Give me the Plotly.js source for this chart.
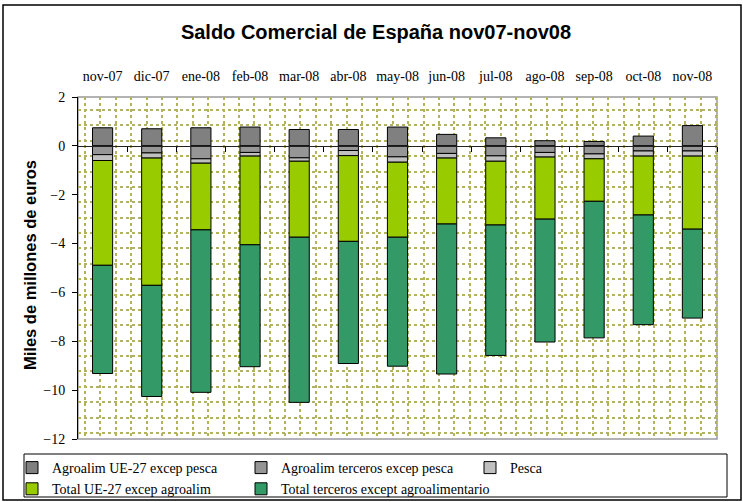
<!DOCTYPE html>
<html>
<head>
<meta charset="utf-8">
<script src="https://cdn.plot.ly/plotly-3.0.1.min.js"></script>
<style>html,body{margin:0;padding:0;background:#fff;}#chart{width:743px;height:502px;}</style>
</head>
<body>
<div id="chart"></div>
<script>
// ---- data (miles de millones de euros) ----
const months = ["nov-07","dic-07","ene-08","feb-08","mar-08","abr-08","may-08","jun-08","jul-08","ago-08","sep-08","oct-08","nov-08"];
const agroUE = [0.74,0.70,0.74,0.77,0.67,0.67,0.77,0.47,0.33,0.21,0.18,0.40,0.83];
const agroTerceros = [-0.36,-0.29,-0.53,-0.27,-0.49,-0.19,-0.45,-0.31,-0.41,-0.27,-0.33,-0.21,-0.21];
const pesca = [-0.24,-0.21,-0.18,-0.15,-0.14,-0.21,-0.22,-0.19,-0.22,-0.19,-0.20,-0.21,-0.21];
const totalUE = [-4.29,-5.21,-2.73,-3.63,-3.11,-3.51,-3.07,-2.70,-2.61,-2.54,-1.74,-2.41,-2.99];
const totalTerceros = [-4.43,-4.55,-6.65,-4.99,-6.76,-5.00,-5.28,-6.14,-5.34,-5.03,-5.59,-4.49,-3.64];
const seriesNames = ["Agroalim UE-27 excep pesca","Agroalim terceros excep pesca","Pesca","Total UE-27 excep agroalim","Total terceros except agroalimentario"];
const yTicks = [-12,-10,-8,-6,-4,-2,0,2];

const colors = ["#808080","#969696","#c0c0c0","#99cc00","#339966"];
const allSeries = [agroUE, agroTerceros, pesca, totalUE, totalTerceros];

const serif = "Liberation Serif, Times New Roman, serif";
const sans = "Liberation Sans, Arial, sans-serif";

const traces = allSeries.map((vals, i) => ({
  type: "bar",
  name: seriesNames[i],
  x: months,
  y: vals,
  marker: {color: colors[i], line: {color: "#000", width: 1}},
  hoverinfo: "x+y+name"
}));

// plot-area geometry in pixels (for background pattern grid)
const L = 78, R = 26, T = 97, B = 63, W = 743, H = 502;
const pw = W - L - R, ph = H - T - B;
const px = v => (v - L) / pw;          // page x -> paper x
const py = v => (H - B - v) / ph;      // page y -> paper y

// invisible helper trace for the dotted pattern grid
traces.push({type:"scatter", x:[0], y:[0], xaxis:"x2", yaxis:"y2", mode:"markers",
  marker:{opacity:0}, showlegend:false, hoverinfo:"skip"});
// helper trace for the category-boundary ticks along zero line
traces.push({type:"scatter", x:[0], y:[0], xaxis:"x3", yaxis:"y", mode:"markers",
  marker:{opacity:0}, showlegend:false, hoverinfo:"skip"});

const boundaries = months.map((_, i) => i + 0.5);

const layout = {
  width: W, height: H,
  margin: {l: L, r: R, t: T, b: B, pad: 0, autoexpand: false},
  paper_bgcolor: "#fff",
  plot_bgcolor: "#fff",
  barmode: "relative",
  bargap: 0.59,
  showlegend: true,
  title: {text: "Saldo Comercial de España nov07-nov08", font: {family: sans, size: 20, color: "#000", weight: "bold"},
    x: 0.506, xanchor: "center", y: 0.936, yanchor: "middle"},
  xaxis: {
    type: "category", side: "top", range: [-0.5, months.length - 0.5],
    showgrid: false, zeroline: false, showline: false, ticks: "",
    tickfont: {family: serif, size: 14, color: "#000"},
    ticklabelstandoff: 12, automargin: false, fixedrange: true
  },
  xaxis2: {overlaying: "x", range: [0, pw], tick0: 7, dtick: 15.39, showgrid: true,
    gridcolor: "#b3b35e", gridwidth: 2, griddash: "dot", showticklabels: false, ticks: "",
    zeroline: false, showline: false, anchor: "y2", fixedrange: true},
  yaxis2: {overlaying: "y", range: [0, ph], tick0: 6, dtick: 15.38, showgrid: true,
    gridcolor: "#b3b35e", gridwidth: 2, griddash: "dot", showticklabels: false, ticks: "",
    zeroline: false, showline: false, anchor: "x2", fixedrange: true},
  xaxis3: {overlaying: "x", anchor: "free", position: 12 / 14, range: [-0.5, months.length - 0.5],
    tickvals: boundaries, ticks: "outside", ticklen: 5, tickcolor: "#000", tickwidth: 1,
    showticklabels: false, showgrid: false, zeroline: false, showline: true, linecolor: "#222", linewidth: 1.5,
    side: "bottom", fixedrange: true},
  yaxis: {
    range: [-12, 2], tickvals: yTicks, ticks: "outside", ticklen: 5, tickcolor: "#000",
    showline: true, linecolor: "#000", linewidth: 1, showgrid: false, zeroline: false,
    tickfont: {family: serif, size: 14, color: "#000"}, ticklabelstandoff: 4,
    automargin: false, fixedrange: true
  },
  legend: {
    orientation: "h", traceorder: "normal",
    x: px(12), xanchor: "left", y: py(452), yanchor: "top",
    borderwidth: 0, bgcolor: "rgba(0,0,0,0)",
    font: {family: serif, size: 14, color: "#000"},
    entrywidth: 184, entrywidthmode: "pixels", itemwidth: 30, tracegroupgap: 0
  },
  annotations: [
    {text: "Miles de millones de euros", xref: "paper", yref: "paper", x: px(30), y: py(265),
      xanchor: "center", yanchor: "middle", textangle: -90, showarrow: false,
      font: {family: sans, size: 16.5, color: "#000", weight: "bold"}}
  ],
  shapes: [
    {type: "rect", xref: "paper", yref: "paper", x0: 0, x1: 1, y0: 0, y1: 1,
      line: {color: "#9a9a9a", width: 1.5}, layer: "below"},
    {type: "rect", xref: "paper", yref: "paper",
      x0: px(3), x1: px(741), y0: py(500), y1: py(5),
      line: {color: "#000", width: 1.5}, layer: "below"},
    {type: "rect", xref: "paper", yref: "paper",
      x0: px(24), x1: px(727), y0: py(497), y1: py(454),
      line: {color: "#000", width: 1}, layer: "below"}
  ]
};

Plotly.newPlot("chart", traces, layout, {displayModeBar: false, staticPlot: true});
</script>
</body>
</html>
